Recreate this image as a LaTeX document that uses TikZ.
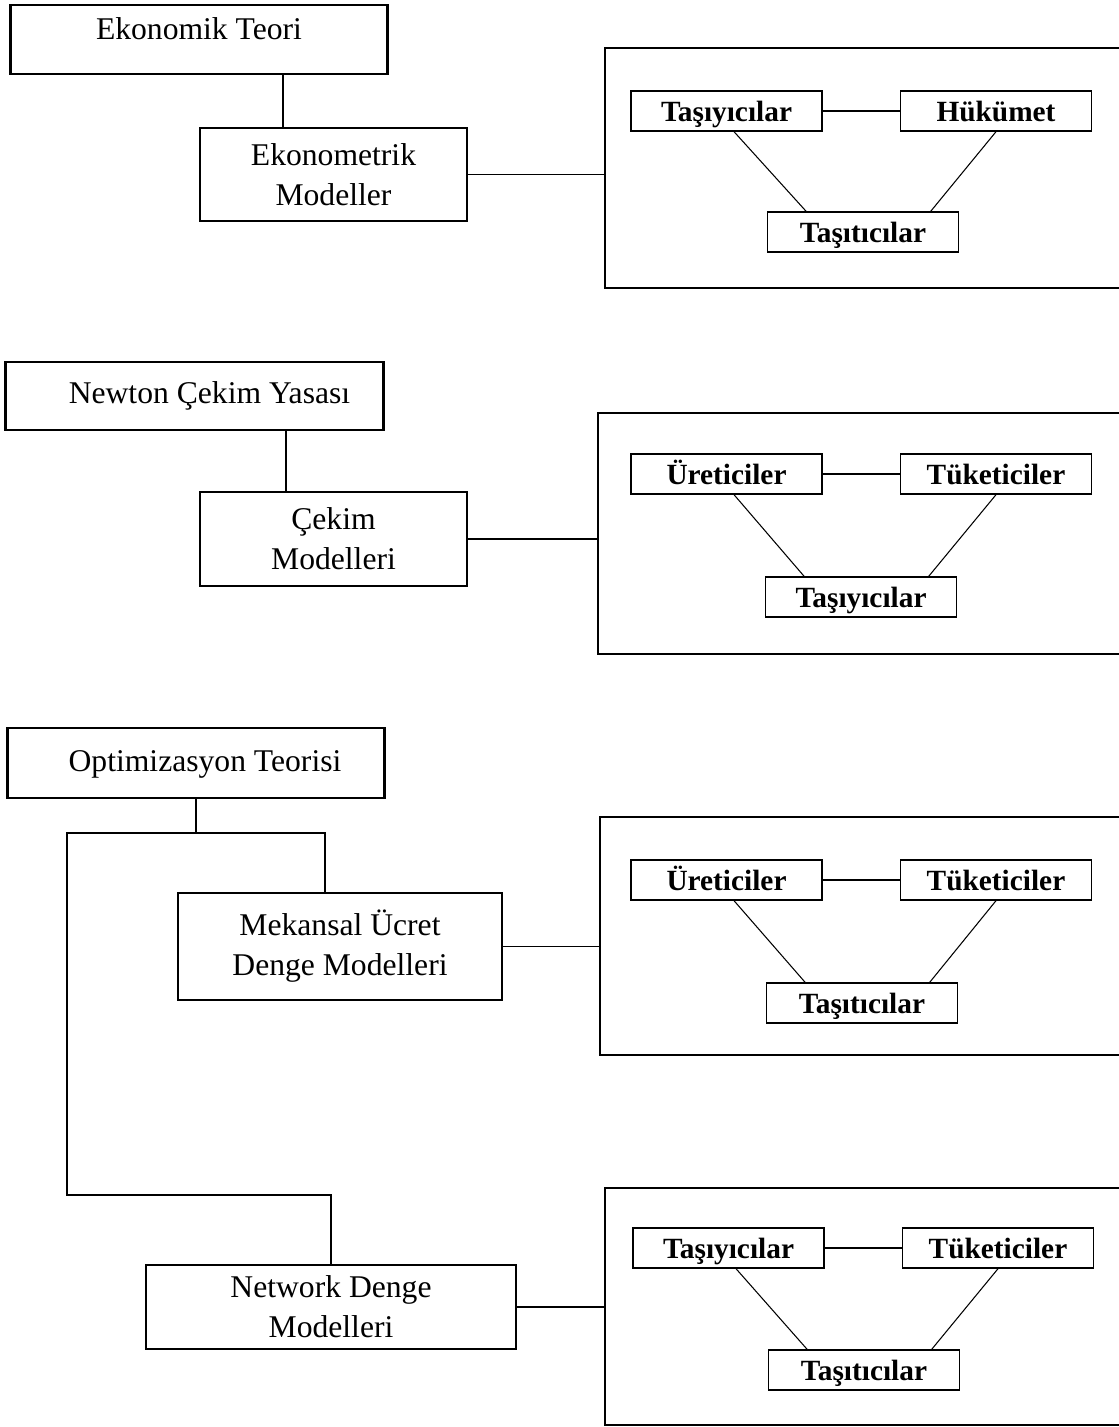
\documentclass[tikz,border=0pt]{standalone}
\usepackage{fontspec}
\setmainfont{Liberation Serif}
\begin{document}
\begin{tikzpicture}[x=0.02cm, y=-0.02cm,
    theory/.style = {draw, line width=1.6pt, minimum width=7.55cm, inner xsep=0pt, inner ysep=0pt, font=\fontsize{18}{22.8}\selectfont},
    model/.style = {draw, line width=1.6pt, align=center, inner sep=0pt, font=\fontsize{18}{22.8}\selectfont},
    group/.style = {draw, line width=1.6pt, minimum width=10.8cm},
    actor/.style = {draw, line width=0.8pt, minimum width=3.82cm, minimum height=0.8cm, inner sep=0pt, text height=0.5cm, text depth=0.1cm, font=\fontsize{16.7}{20}\selectfont\bfseries},
    link/.style = {line width=0.6pt}]
    \useasboundingbox (0,0) rectangle (1119,1427);
    \clip (0,0) rectangle (1119,1427);

    % ekonomik teori
    \node[theory, text height=0.68cm, text depth=0.70cm] (et) at (199,39.5) {Ekonomik Teori};
    \node[model, minimum width=5.34cm, minimum height=1.86cm] (em) at (333.5,174.5) {Ekonometrik\\Modeller};
    \node[group, minimum height=4.8cm] (g1) at (875,168) {};
    \node[actor] (t1) at (726.5,111) {Taşıyıcılar};
    \node[actor] (h1) at (996,111) {Hükümet};
    \node[actor] (s1) at (863,232) {Taşıtıcılar};
    \draw[link] ([xshift=1.68cm]et.south) -- ([xshift=1.68cm]et.south |- em.north);
    \draw[link] (em.east) -- (em.east -| g1.west);
    \draw[link] (t1) -- (h1);
    \draw[link] (t1.-70) -- (s1.160);
    \draw[link] (h1.south) -- (s1.17);

    % newton
    \node[theory, text height=0.82cm, text depth=0.54cm] (nt) at (194.5,396) {\hspace*{0.6cm}Newton Çekim Yasası};
    \node[model, minimum width=5.34cm, minimum height=1.88cm] (cm) at (333.5,539) {Çekim\\Modelleri};
    \node[group, minimum height=4.82cm] (g2) at (868,533.5) {};
    \node[actor] (u2) at (726.5,474) {Üreticiler};
    \node[actor] (k2) at (996,474) {Tüketiciler};
    \node[actor] (s2) at (861,597) {Taşıyıcılar};
    \draw[link] ([xshift=1.83cm]nt.south) -- ([xshift=1.83cm]nt.south |- cm.north);
    \draw[link] (cm.east) -- (cm.east -| g2.west);
    \draw[link] (u2) -- (k2);
    \draw[link] (u2.-70) -- (s2.160);
    \draw[link] (k2.south) -- (s2.17);

    % optimizasyon
    \node[theory, text height=0.86cm, text depth=0.54cm] (ot) at (196,763) {\hspace*{0.36cm}Optimizasyon Teorisi};
    \node[model, minimum width=6.48cm, minimum height=2.14cm] (mu) at (340,946.5) {Mekansal Ücret\\Denge Modelleri};
    \node[model, minimum width=7.4cm, minimum height=1.68cm] (nd) at (331,1307) {Network Denge\\Modelleri};
    \coordinate (b1) at (67,833);
    \coordinate (b2) at (67,1195);
    \draw[link] (ot.south) -- (ot.south |- b1);
    \draw[link] ([xshift=-0.3cm]mu.north) |- (b1) -- (b2) -| (nd.north);

    \node[group, minimum height=4.76cm] (g3) at (870,936) {};
    \node[actor] (u3) at (726.5,880) {Üreticiler};
    \node[actor] (k3) at (996,880) {Tüketiciler};
    \node[actor] (s3) at (862,1003) {Taşıtıcılar};
    \draw[link] (mu.east) -- (mu.east -| g3.west);
    \draw[link] (u3) -- (k3);
    \draw[link] (u3.-70) -- (s3.160);
    \draw[link] (k3.south) -- (s3.17);

    \node[group, minimum height=4.74cm] (g4) at (875,1306.5) {};
    \node[actor] (t4) at (728.5,1248) {Taşıyıcılar};
    \node[actor] (k4) at (998,1248) {Tüketiciler};
    \node[actor] (s4) at (864,1370) {Taşıtıcılar};
    \draw[link] (nd.east) -- (nd.east -| g4.west);
    \draw[link] (t4) -- (k4);
    \draw[link] (t4.-70) -- (s4.160);
    \draw[link] (k4.south) -- (s4.17);
\end{tikzpicture}
\end{document}
